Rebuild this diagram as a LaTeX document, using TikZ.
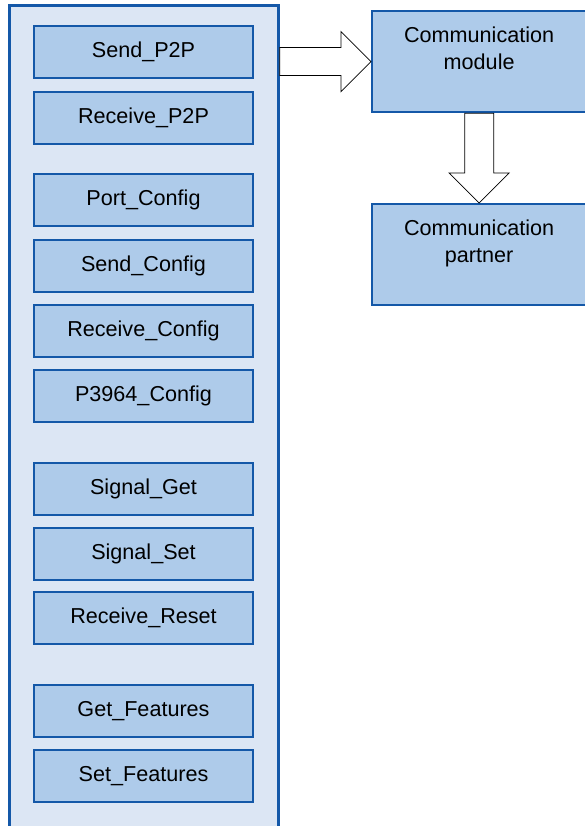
\documentclass[tikz,border=0pt]{standalone}
\usepackage{fontspec}
\setmainfont{Liberation Sans}
\usetikzlibrary{positioning,calc}
\definecolor{frameblue}{RGB}{20,88,168}
\definecolor{panelfill}{RGB}{220,230,244}
\definecolor{boxfill}{RGB}{174,203,234}

\begin{document}
\begin{tikzpicture}[x=1pt,y=1pt,
    every node/.style={font=\fontsize{21.6}{27}\selectfont},
    panel/.style={draw=frameblue,fill=panelfill,line width=2.7pt,minimum width=269pt,minimum height=840pt,inner sep=0pt},
    fnbox/.style={draw=frameblue,fill=boxfill,line width=2.3pt,minimum width=218.7pt,minimum height=51.7pt,inner sep=0pt},
    modbox/.style={draw=frameblue,fill=boxfill,line width=2.3pt,minimum width=214pt,align=center,inner xsep=0pt,inner ysep=0pt,text height=58.5pt,text depth=42.4pt},
    hollow/.style={draw=black,fill=white,line width=0.8pt,line join=miter}]
  \useasboundingbox (0,0) rectangle (585,826);
  \clip (0,0) rectangle (585,826);

  % block list
  \node (panel) [panel,anchor=north west] at (8,822) {};
  \node (send) [fnbox,anchor=north west] at (33,801) {Send\_P2P};
  \node (receive) [fnbox,below=12pt of send] {Receive\_P2P};

  \node (port) [fnbox,below=28pt of receive] {Port\_Config};
  \node (sendcfg) [fnbox,below=12pt of port] {Send\_Config};
  \node (recvcfg) [fnbox,below=11pt of sendcfg] {Receive\_Config};
  \node (p3964) [fnbox,below=11pt of recvcfg] {P3964\_Config};

  \node (sigget) [fnbox,below=39pt of p3964] {Signal\_Get};
  \node (sigset) [fnbox,below=11pt of sigget] {Signal\_Set};
  \node (recvreset) [fnbox,below=10pt of sigset] {Receive\_Reset};

  \node (getfeat) [fnbox,below=39pt of recvreset] {Get\_Features};
  \node (setfeat) [fnbox,below=11pt of getfeat] {Set\_Features};

  % module and partner
  \node (modul) [modbox,anchor=north west] at (371,816) {Communication\\module};
  \node (partner) [modbox,anchor=north west] at (371,623) {Communication\\partner};

  % hollow arrows
  \draw [hollow]
    ($(panel.east |- modul.west)+(0,14)$) -- ($(modul.west)+(-30,14)$) -- ++(0,16)
    -- (modul.west) -- ++(-30,-30) -- ++(0,16)
    -- ($(panel.east |- modul.west)+(0,-14)$) -- cycle;
  \draw [hollow]
    ($(modul.south)+(-14.5,0)$) -- ($(partner.north)+(-14.5,30)$) -- ++(-15.5,0)
    -- (partner.north) -- ++(30,30) -- ++(-15.5,0)
    -- ($(modul.south)+(14.5,0)$) -- cycle;
\end{tikzpicture}
\end{document}
